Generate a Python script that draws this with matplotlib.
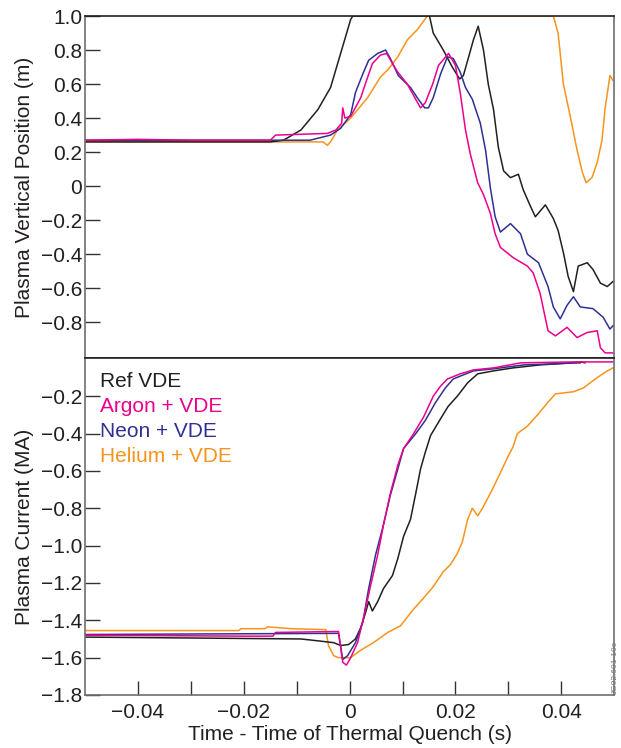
import numpy as np
import matplotlib
matplotlib.use('Agg')
import matplotlib.pyplot as plt
from matplotlib.ticker import FixedLocator, FixedFormatter

plt.rcParams['font.family'] = ['Liberation Sans', 'DejaVu Sans']

# colours
c_ref = '#231f20'
c_ar = '#ec008c'
c_ne = '#2e3192'
c_he = '#f7941d'

# ---- top panel: vertical position (time in ms, z in m)
ref_t = [-50, -15, -12.5, -9.2, -6.0, -3.6, -1.7, 0.2, 0.6, 15.1, 15.8, 17.7, 19.4, 20.8, 21.5,
         22.5, 23.4, 24.3, 25.3, 26.2, 27.2, 28.1, 29.1, 30.4, 31.9, 32.8, 34.2, 35.1, 37.0, 38.5,
         39.4, 40.4, 41.3, 42.3, 43.2, 44.9, 46.0, 47.4, 48.7, 49.8]
ref_z = [0.26, 0.26, 0.27, 0.33, 0.45, 0.58, 0.78, 0.98, 1.0, 1.0, 0.9, 0.8, 0.70, 0.63, 0.65,
         0.76, 0.86, 0.94, 0.80, 0.60, 0.45, 0.23, 0.09, 0.05, 0.07, -0.02, -0.12, -0.18, -0.11, -0.19,
         -0.26, -0.39, -0.53, -0.62, -0.47, -0.45, -0.49, -0.57, -0.59, -0.56]

ar_t = [-50, -40, -30, -15, -14, -4.2, -2.6, -1.5, -1.3, -0.9, 0.2, 2.1, 3.4, 4.3, 5.8, 7.0, 8.1,
        9.1, 10.9, 12.5, 13.4, 14.3, 15.7, 16.8, 18.7, 20.0, 20.9, 21.9, 22.8, 24.2, 25.3, 26.6,
        27.5, 28.5, 30.9, 33.6, 34.7, 36.0, 37.5, 38.9, 41.1, 43.0, 44.9, 46.8, 47.4, 48.3, 49.8]
ar_z = [0.27, 0.275, 0.27, 0.27, 0.30, 0.31, 0.33, 0.37, 0.46, 0.40, 0.41, 0.52, 0.64, 0.72, 0.77,
        0.78, 0.72, 0.67, 0.60, 0.51, 0.46, 0.49, 0.60, 0.71, 0.78, 0.71, 0.55, 0.33, 0.19, 0.02,
        -0.05, -0.16, -0.28, -0.36, -0.42, -0.47, -0.51, -0.63, -0.85, -0.88, -0.83, -0.89, -0.86,
        -0.85, -0.95, -0.98, -0.98]

ne_t = [-50, -7.5, -3.6, -1.7, 0.2, 1.1, 2.5, 3.6, 5.3, 6.8, 7.7, 9.2, 11.5, 13.0, 14.2, 14.9,
        15.8, 17.2, 18.5, 19.6, 20.9, 21.9, 23.2, 24.7, 25.7, 26.6, 27.5, 28.5, 30.4, 32.3, 33.6,
        35.7, 37.5, 38.5, 39.8, 41.1, 42.3, 43.6, 46.0, 47.9, 49.2, 49.8]
ne_z = [0.27, 0.27, 0.30, 0.34, 0.42, 0.55, 0.66, 0.74, 0.78, 0.80, 0.75, 0.65, 0.58, 0.51, 0.46,
        0.46, 0.52, 0.66, 0.76, 0.75, 0.67, 0.58, 0.51, 0.37, 0.21, -0.01, -0.18, -0.27, -0.22,
        -0.28, -0.40, -0.45, -0.59, -0.71, -0.78, -0.70, -0.65, -0.71, -0.72, -0.77, -0.84, -0.82]

he_t = [-50, -5.0, -4.2, -3.6, -2.3, 0.2, 3.4, 5.8, 7.4, 9.1, 10.9, 12.8, 14.7, 38.5, 39.4, 40.4,
        41.7, 43.0, 44.0, 44.7, 45.8, 46.8, 47.7, 48.3, 49.2, 49.8]
he_z = [0.26, 0.26, 0.24, 0.26, 0.33, 0.40, 0.52, 0.64, 0.69, 0.76, 0.86, 0.92, 1.0, 1.0, 0.9, 0.60,
        0.41, 0.21, 0.08, 0.02, 0.05, 0.14, 0.27, 0.46, 0.65, 0.62]

# ---- bottom panel: plasma current (time in ms, I in MA)
refI_t = [-50, -9.2, -6.0, -3.0, -1.7, -0.2, 1.1, 2.1, 3.0, 3.6, 4.3, 5.3, 6.4, 8.1, 9.1, 10.2, 11.5,
          12.5, 13.4, 14.3, 15.3, 17.2, 18.6, 20.4, 22.3, 24.2, 27.2, 30.9, 36.0, 42.3, 43.6]
refI = [-1.49, -1.50, -1.51, -1.52, -1.535, -1.53, -1.50, -1.44, -1.36, -1.30, -1.35, -1.30, -1.23,
        -1.16, -1.07, -0.95, -0.86, -0.72, -0.59, -0.50, -0.41, -0.32, -0.255, -0.198, -0.128,
        -0.08, -0.064, -0.048, -0.032, -0.021, -0.021]

arI_t = [-50, -19.5, -14.5, -14.0, -2.1, -1.3, -0.6, 0.2, 1.5, 2.6, 4.0, 5.3, 6.4, 7.7, 9.1, 10.2,
         12.1, 14.0, 15.8, 17.2, 18.5, 20.9, 23.4, 27.2, 32.3, 42.3, 49.8]
arI = [-1.48, -1.485, -1.485, -1.465, -1.46, -1.625, -1.64, -1.60, -1.52, -1.39, -1.21, -1.05,
       -0.89, -0.72, -0.57, -0.48, -0.40, -0.31, -0.20, -0.145, -0.107, -0.08, -0.059, -0.048,
       -0.021, -0.016, -0.016]

neI_t = [-50, -2.1, -1.3, -0.4, 1.1, 2.5, 3.6, 4.9, 6.2, 7.7, 9.1, 10.2, 12.5, 14.3, 16.2, 18.1,
         19.6, 23.4, 27.2, 32.9, 37.9, 42.3, 43.6, 44.5]
neI = [-1.476, -1.47, -1.61, -1.59, -1.52, -1.41, -1.23, -1.05, -0.91, -0.73, -0.59, -0.48, -0.40,
       -0.33, -0.235, -0.155, -0.107, -0.064, -0.053, -0.032, -0.027, -0.021, -0.016, -0.021]

heI_t = [-50, -21.0, -20.5, -16.0, -15.5, -11.0, -4.5, -4.0, -3.0, -2.1, 0.2, 2.1, 4.5, 7.2, 9.6,
         12.1, 14.0, 15.8, 17.7, 19.1, 20.4, 21.3, 22.3, 23.2, 24.2, 25.1, 26.6, 28.5, 29.8, 30.9,
         31.7, 33.6, 35.5, 37.4, 38.9, 42.3, 44.2, 46.8, 48.7, 49.8]
heI = [-1.455, -1.455, -1.445, -1.445, -1.435, -1.445, -1.45, -1.535, -1.59, -1.60, -1.60, -1.56,
       -1.52, -1.465, -1.43, -1.34, -1.28, -1.22, -1.14, -1.10, -1.04, -0.98, -0.86, -0.80, -0.84,
       -0.80, -0.72, -0.61, -0.53, -0.47, -0.40, -0.36, -0.30, -0.235, -0.187, -0.176, -0.155,
       -0.10, -0.064, -0.048]

labels = ['Ref VDE', 'Argon + VDE', 'Neon + VDE', 'Helium + VDE']

fig = plt.figure(figsize=(6.21, 7.48), dpi=100)
ax1 = fig.add_axes([0.137, 0.5214, 0.852, 0.4572])
ax2 = fig.add_axes([0.137, 0.0709, 0.852, 0.4505])

ms = lambda v: np.array(v) / 1000.0
lw = 1.1
fs = 15

ax1.plot(ms(he_t), he_z, color=c_he, lw=lw)
ax1.plot(ms(ref_t), ref_z, color=c_ref, lw=lw)
ax1.plot(ms(ne_t), ne_z, color=c_ne, lw=lw)
ax1.plot(ms(ar_t), ar_z, color=c_ar, lw=lw)

ax2.plot(ms(heI_t), heI, color=c_he, lw=lw)
ax2.plot(ms(refI_t), refI, color=c_ref, lw=lw)
ax2.plot(ms(neI_t), neI, color=c_ne, lw=lw)
ax2.plot(ms(arI_t), arI, color=c_ar, lw=lw)

for ax in (ax1, ax2):
    ax.set_xlim(-0.05, 0.05)
    for s in ax.spines.values():
        s.set_color('#6d6e71')
        s.set_linewidth(1.2)
    ax.tick_params(axis='y', direction='in', length=11, width=1, pad=2,
                   labelsize=fs, color='#333333', labelcolor='#231f20')

ax1.spines['top'].set_color('#231f20')
ax1.spines['bottom'].set_color('#231f20')
ax2.spines['top'].set_color('#231f20')

ax1.set_ylim(-1.01, 1.0)
yt1 = [1.0, 0.8, 0.6, 0.4, 0.2, 0, -0.2, -0.4, -0.6, -0.8]
ax1.yaxis.set_major_locator(FixedLocator(yt1))
ax1.yaxis.set_major_formatter(FixedFormatter(['0' if v == 0 else f'{v:.1f}'.replace('-', '\u2212') for v in yt1]))
ax1.set_xticks([])
ax1.set_ylabel('Plasma Vertical Position (m)', fontsize=fs, color='#231f20')
ax1.yaxis.set_label_coords(-0.097, 0.5)

ax2.set_ylim(-1.8, 0.005)
yt2 = [-0.2, -0.4, -0.6, -0.8, -1.0, -1.2, -1.4, -1.6, -1.8]
ax2.yaxis.set_major_locator(FixedLocator(yt2))
ax2.yaxis.set_major_formatter(FixedFormatter([f'{v:.1f}'.replace('-', '\u2212') for v in yt2]))
xt = [-0.04, -0.03, -0.02, -0.01, 0, 0.01, 0.02, 0.03, 0.04]
xl = ['\u22120.04', '', '\u22120.02', '', '0', '', '0.02', '', '0.04']
ax2.xaxis.set_major_locator(FixedLocator(xt))
ax2.xaxis.set_major_formatter(FixedFormatter(xl))
ax2.tick_params(axis='x', direction='in', length=10, width=1, pad=6,
                labelsize=fs, color='#333333', labelcolor='#231f20')
ax2.set_xlabel('Time - Time of Thermal Quench (s)', fontsize=fs, color='#231f20', labelpad=2)
ax2.set_ylabel('Plasma Current (MA)', fontsize=fs, color='#231f20')
ax2.yaxis.set_label_coords(-0.097, 0.5)

colors = [c_ref, c_ar, c_ne, c_he]
for i, (lab, c) in enumerate(zip(labels, colors)):
    ax2.text(0.028, 0.93 - i * 0.0745, lab, transform=ax2.transAxes, color=c,
             fontsize=fs, ha='left', va='center')

fig.text(0.997, 0.072, 'JG02.601-10c', rotation=90, fontsize=6, color='#777777',
         ha='right', va='bottom')

fig.savefig('out.png', dpi=100)
